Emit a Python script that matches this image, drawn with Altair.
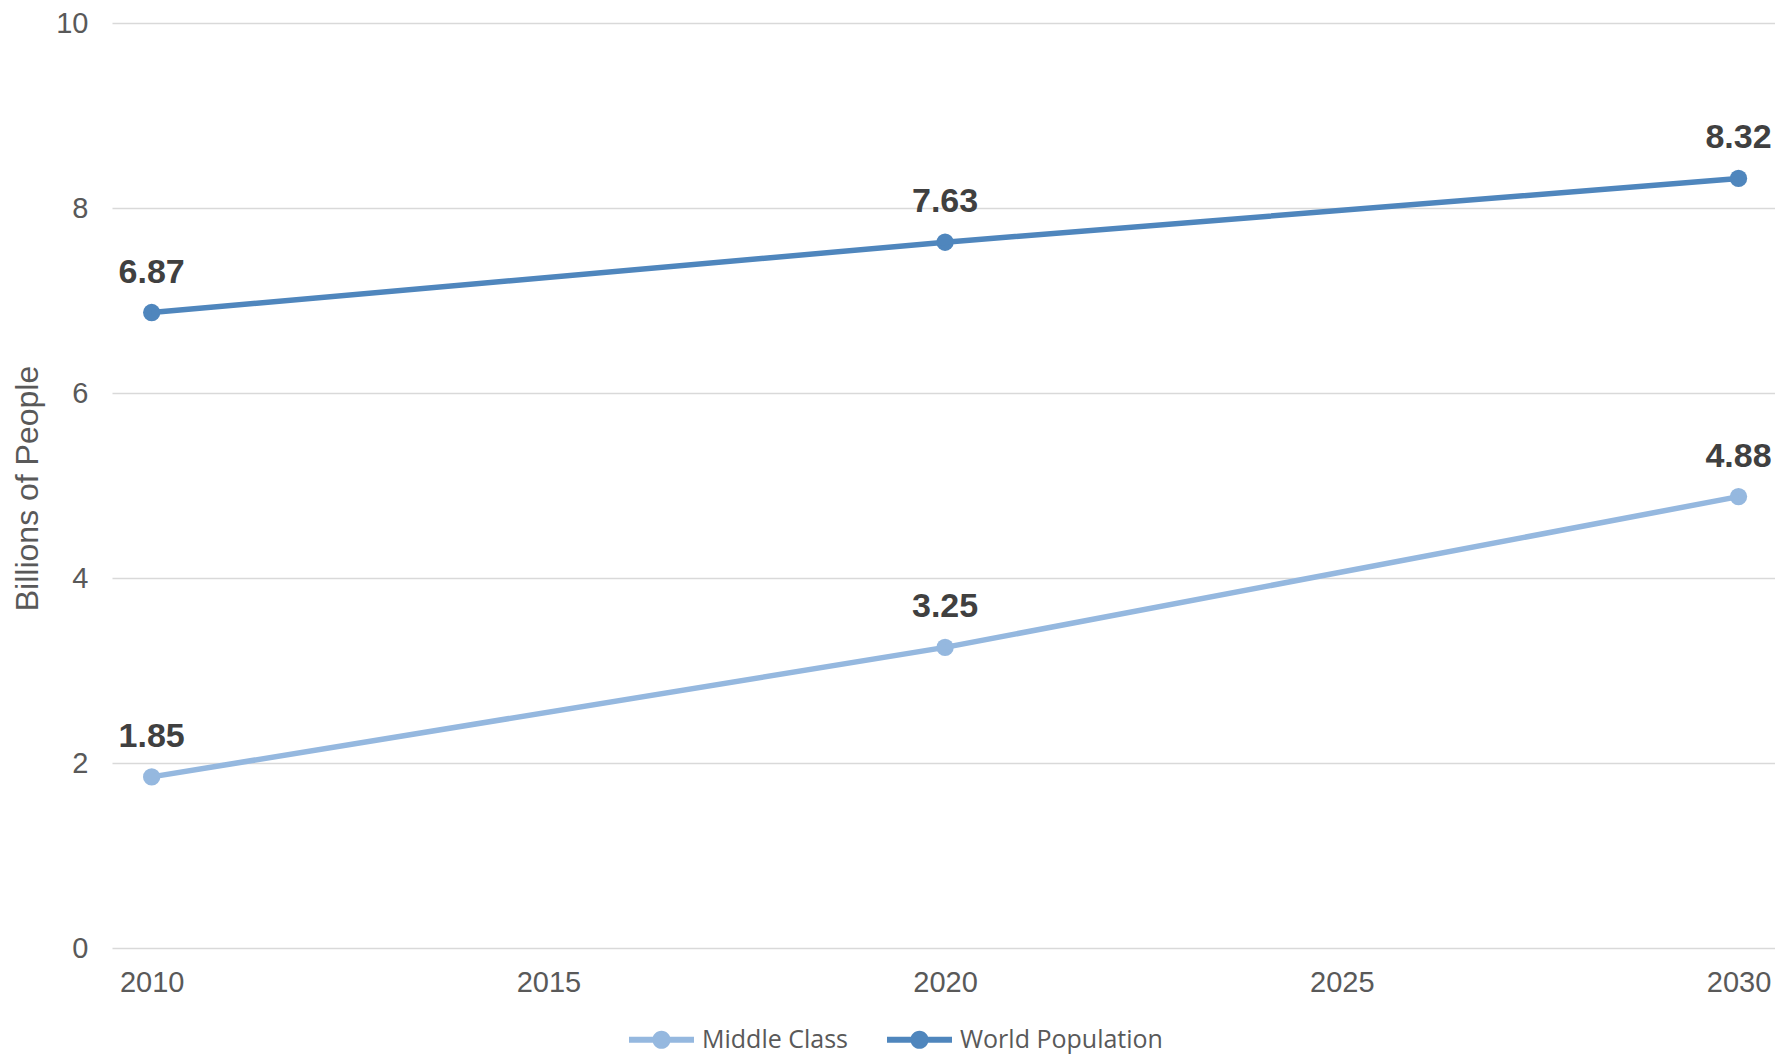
import altair as alt
import pandas as pd

years = [2010, 2020, 2030]
middle_class = [1.85, 3.25, 4.88]
world_population = [6.87, 7.63, 8.32]
series_names = ["Middle Class", "World Population"]
series_colors = ["#95B8DF", "#4F86BD"]
x_ticks = [2010, 2015, 2020, 2025, 2030]
y_ticks = [0, 2, 4, 6, 8, 10]

rows = []
for name, vals in zip(series_names, [middle_class, world_population]):
    for yr, v in zip(years, vals):
        rows.append({"year": yr, "value": v, "series": name, "label": f"{v:.2f}"})
df = pd.DataFrame(rows)

sym_path = ("M-1,-0.09L1,-0.09L1,0.09L-1,0.09Z "
            "M-0.28,0A0.28,0.28 0 1,1 0.28,0A0.28,0.28 0 1,1 -0.28,0Z")

color = alt.Color(
    "series:N",
    scale=alt.Scale(domain=series_names, range=series_colors),
    legend=alt.Legend(
        title=None,
        orient="none",
        legendX=517,
        legendY=984,
        direction="horizontal",
        symbolType=sym_path,
        symbolSize=4225,
        symbolStrokeWidth=0,
        symbolOpacity=1,
        labelFont="Open Sans",
        labelFontSize=25,
        labelColor="#595959",
        labelOffset=8,
        labelLimit=400,
        columnPadding=38,
    ),
)

x = alt.X(
    "year:Q",
    scale=alt.Scale(domain=[2009.5, 2030.46], nice=False, zero=False),
    axis=alt.Axis(
        title=None, values=x_ticks, format="d", grid=False, domain=False,
        ticks=False, labelFont="Liberation Sans", labelFontSize=29,
        labelColor="#595959", labelPadding=20,
    ),
)
y = alt.Y(
    "value:Q",
    scale=alt.Scale(domain=[0, 10], nice=False),
    axis=alt.Axis(
        title="Billions of People", values=y_ticks, grid=True,
        gridColor="#D9D9D9", gridWidth=1.5, domain=False, ticks=False,
        labelFont="Liberation Sans", labelFontSize=29, labelColor="#595959",
        labelPadding=24, titleFont="Liberation Sans", titleFontSize=32,
        titleFontWeight="normal", titleColor="#595959",
        titleX=-68, titleY=465,
    ),
)

base = alt.Chart(df)
points = base.mark_point(filled=True, size=300, opacity=1).encode(x=x, y=y, color=color)
lines = base.mark_line(strokeWidth=5.5).encode(x=x, y=y, color=color)
labels = base.mark_text(
    font="Liberation Sans", fontSize=34, fontWeight="bold", color="#404040",
    baseline="alphabetic", align="center", dy=-30,
).encode(x=x, y=y, text="label:N")

chart = alt.layer(points, lines, labels).properties(
    width=1663,
    height=925,
    autosize=alt.AutoSizeParams(type="none"),
    padding={"left": 104, "top": 15, "right": 0, "bottom": 106},
).configure_view(stroke=None)

chart.save("out.html", embed_options={"renderer": "svg", "actions": False})
